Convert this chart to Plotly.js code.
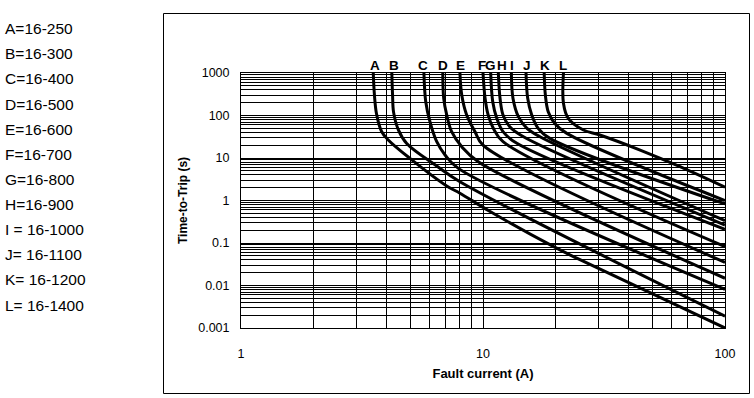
<!DOCTYPE html>
<html>
<head>
<meta charset="utf-8">
<script src="https://cdn.plot.ly/plotly-3.0.1.min.js"></script>
<style>html,body{margin:0;padding:0;background:#fff;}#chart{width:754px;height:398px;}</style>
</head>
<body>
<div id="chart"></div>
<script>
// ---- data ----
var curveNames = ["A","B","C","D","E","F","G","H","I","J","K","L"];
var legendLabels = ["A=16-250","B=16-300","C=16-400","D=16-500","E=16-600","F=16-700","G=16-800","H=16-900","I = 16-1000","J= 16-1100","K= 16-1200","L= 16-1400"];
var labelCurrents = [3.58, 4.30, 5.67, 6.85, 8.11, 9.88, 10.76, 11.95, 13.14, 15.24, 18.04, 21.47];

var A_x = [3.52, 3.56, 3.63, 3.81, 4.05, 4.99, 7.08, 8.03, 10.7, 19.5, 24.4, 100];
var A_y = [1000, 300, 110, 42, 27, 9.8, 2.2, 1.48, 0.55, 0.083, 0.044, 0.001];
var B_x = [4.20, 4.23, 4.27, 4.47, 4.84, 6.44, 8.03, 100];
var B_y = [1000, 300, 120, 46, 22, 6.5, 2.77, 0.0019];
var C_x = [5.70, 5.80, 6.04, 6.44, 6.97, 7.91, 100];
var C_y = [1000, 211, 71, 24.2, 11.8, 5.7, 0.0081];
var D_x = [6.82, 6.88, 7.08, 7.42, 8.17, 9.56, 100];
var D_y = [1000, 254, 103, 41.6, 18.5, 8.2, 0.0148];
var E_x = [8.03, 8.17, 8.56, 9.27, 10.0, 100];
var E_y = [1000, 303, 103, 41.6, 20.2, 0.035];
var F_x = [10.0, 10.2, 10.5, 11.03, 12.1, 100];
var F_y = [1000, 254, 103, 50, 24.2, 0.082];
var G_x = [10.76, 10.97, 11.4, 12.1, 13.8, 100];
var G_y = [1000, 211, 86, 41.6, 22.2, 0.21];
var H_x = [11.57, 11.76, 12.1, 12.9, 14.7, 100];
var H_y = [1000, 254, 103, 54.6, 31.7, 0.265];
var I_x = [13.1, 13.3, 14.0, 15.2, 17.2, 100];
var I_y = [1000, 254, 94, 50, 31.7, 0.335];
var J_x = [15.06, 15.3, 15.9, 16.9, 18.9, 100];
var J_y = [1000, 254, 103, 50, 29, 0.83];
var K_x = [17.9, 18.1, 18.6, 19.8, 22.2, 100];
var K_y = [1000, 303, 123, 65, 38, 1.0];
var L_x = [21.5, 21.5, 22.5, 26.0, 30.4, 44.6, 65.2, 100];
var L_y = [1000, 194, 86, 45.6, 34.8, 15.4, 6.24, 2.05];

var xTickVals = [1,2,3,4,5,6,7,8,9,10,20,30,40,50,60,70,80,90,100];
var xTickText = ["1","","","","","","","","","10","","","","","","","","","100"];
var yDecades = [0.001, 0.01, 0.1, 1, 10, 100];
var yDecadeLabels = ["0.001","0.01","0.1","1","10","100","1000"];

// ---- build ----
var curvesX = [A_x,B_x,C_x,D_x,E_x,F_x,G_x,H_x,I_x,J_x,K_x,L_x];
var curvesY = [A_y,B_y,C_y,D_y,E_y,F_y,G_y,H_y,I_y,J_y,K_y,L_y];

var yTickVals = [], yTickText = [];
yDecades.forEach(function(d, i){
  for (var m = 1; m <= 9; m++) {
    yTickVals.push(+(d*m).toPrecision(3));
    yTickText.push(m === 1 ? yDecadeLabels[i] : "");
  }
});
yTickVals.push(1000); yTickText.push("1000");

var traces = curvesX.map(function(xs, i){
  return {x: xs, y: curvesY[i], type: 'scatter', mode: 'lines', name: curveNames[i],
          line: {color: '#000', width: 3, shape: 'spline', smoothing: 1}, hoverinfo: 'skip'};
});

// plot area in pixels
var L = 241, R = 725, T = 73, B = 328;
var W = 754, Hh = 398;
function px(x){ return (x - L) / (R - L); }
function py(y){ return (B - y) / (B - T); }

var font = "Liberation Sans, Arial, Helvetica, sans-serif";
var annotations = [];
curveNames.forEach(function(n, i){
  annotations.push({x: Math.log10(labelCurrents[i]), y: py(65.5), xref: 'x', yref: 'paper',
    text: '<b>' + n + '</b>', showarrow: false, xanchor: 'center', yanchor: 'middle',
    font: {family: font, size: 13.5, color: '#000'}});
});
legendLabels.forEach(function(t, i){
  annotations.push({x: px(3), y: py(28.7 + i * 25.12), xref: 'paper', yref: 'paper',
    text: t, showarrow: false, xanchor: 'left', yanchor: 'middle',
    font: {family: font, size: 15.5, color: '#000'}});
});

var layout = {
  width: W, height: Hh,
  margin: {l: L, r: W - R, t: T, b: Hh - B, pad: 0},
  paper_bgcolor: '#fff', plot_bgcolor: '#fff',
  showlegend: false,
  font: {family: font, color: '#000'},
  xaxis: {
    type: 'log', range: [0, 2], tickmode: 'array', tickvals: xTickVals, ticktext: xTickText,
    showgrid: true, gridcolor: '#000', gridwidth: 1, zeroline: false,
    showline: true, linecolor: '#000', linewidth: 1, mirror: true,
    ticks: '', ticklabelstandoff: 14,
    tickfont: {family: font, size: 12.5, color: '#000'},
    title: {text: '<b>Fault current (A)</b>', font: {family: font, size: 13, color: '#000'}, standoff: 8}
  },
  yaxis: {
    type: 'log', range: [-3, 3], tickmode: 'array', tickvals: yTickVals, ticktext: yTickText,
    showgrid: true, gridcolor: '#000', gridwidth: 1, zeroline: false,
    showline: true, linecolor: '#000', linewidth: 1, mirror: true,
    ticks: '', ticklabelstandoff: 8,
    tickfont: {family: font, size: 12.5, color: '#000'},
    title: {text: '<b>Time-to-Trip (s)</b>', font: {family: font, size: 12, color: '#000'}, standoff: 8}
  },
  shapes: [{type: 'rect', xref: 'paper', yref: 'paper', x0: px(163.5), x1: px(749.5), y0: py(393.5), y1: py(13.5),
            line: {color: '#000', width: 1}, fillcolor: 'rgba(0,0,0,0)', layer: 'below'}],
  annotations: annotations
};

Plotly.newPlot('chart', traces, layout, {displayModeBar: false, staticPlot: true});
</script>
</body>
</html>
